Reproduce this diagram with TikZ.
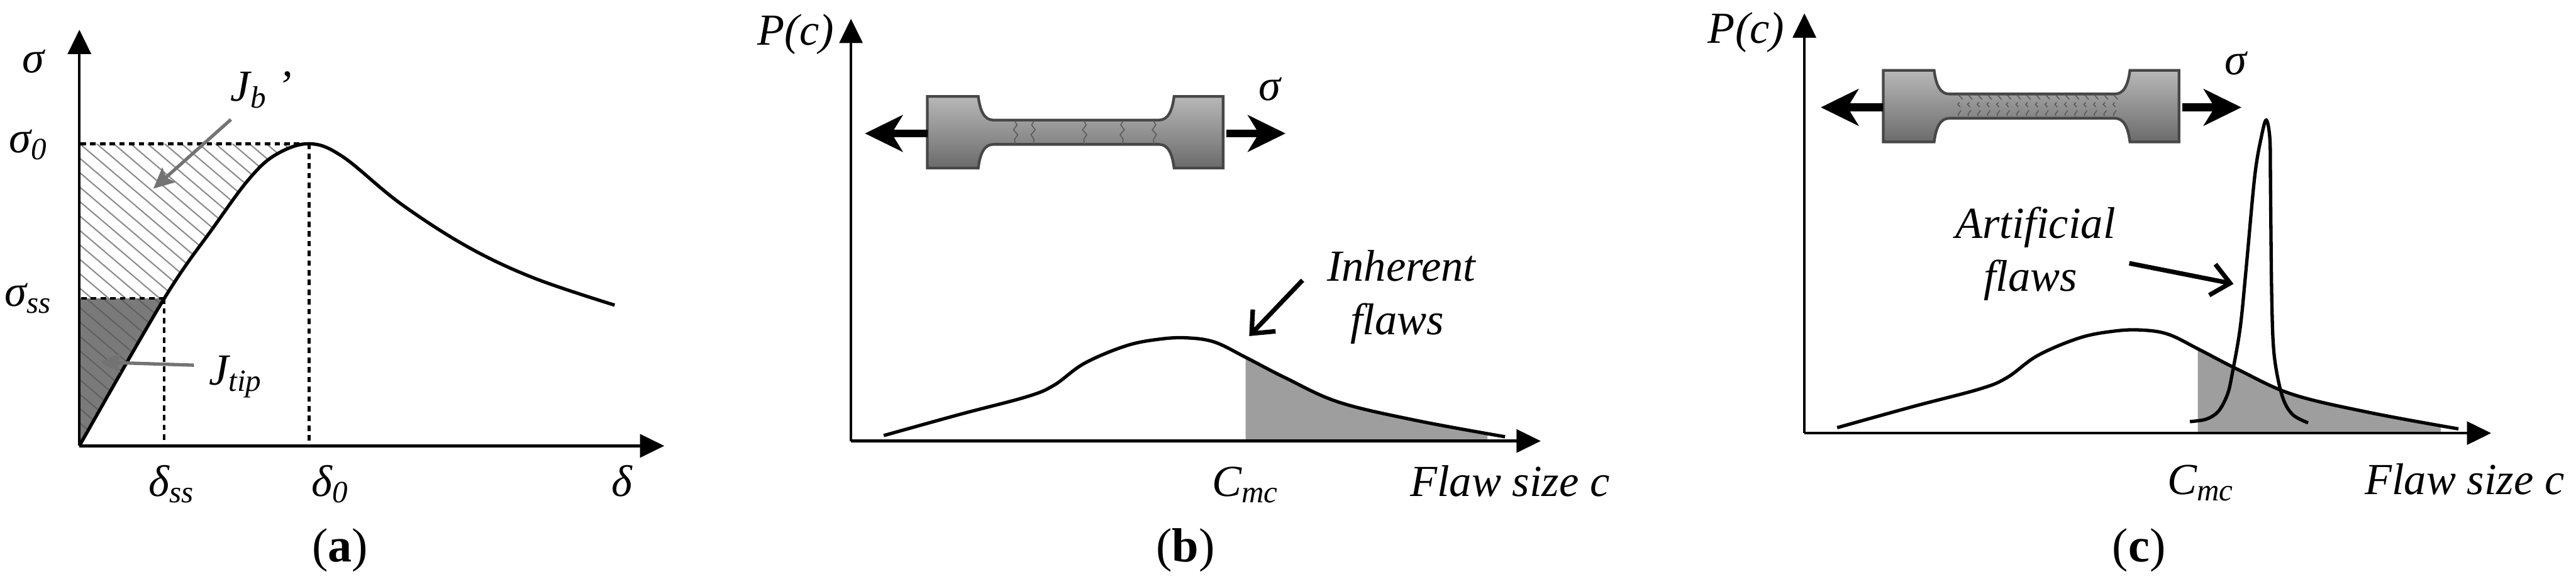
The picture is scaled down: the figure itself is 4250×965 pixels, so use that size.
\documentclass[tikz,border=0pt]{standalone}
\usepackage{fontspec}
\setmainfont{Liberation Serif}
\usetikzlibrary{arrows.meta}
\newcommand{\lowtext}[1]{\raisebox{-0.32ex}{\fontsize{14.5}{16}\selectfont #1}}
\newcommand{\flawcurve}{plot[smooth,tension=.6] coordinates {(54,-9) (180,-44) (290,-73) (335,-92) (385,-128) (454,-157) (510,-168) (555,-170) (600,-163) (651,-138) (717,-104) (805,-64) (932,-34) (1079,-7)}}
\tikzset{
  coupon/.pic={
    \path[shade,top color=black!28,middle color=black!31,bottom color=black!58,draw=black!72,line width=0.045cm]
      (-244,-59) -- (-160,-59) .. controls (-157,-35) and (-150,-20) .. (-135,-20)
      -- (138,-20) .. controls (153,-20) and (160,-35) .. (163,-59)
      -- (244,-59) -- (244,59) -- (163,59) .. controls (160,35) and (153,20) .. (138,20)
      -- (-135,20) .. controls (-150,20) and (-157,35) .. (-160,59)
      -- (-244,59) -- cycle;
    \coordinate (lin) at (-244,2);
    \coordinate (lout) at (-347,2);
    \coordinate (rin) at (249,2);
    \coordinate (rout) at (347,2);
    \draw[load] (lin) -- (lout);
    \draw[load] (rin) -- (rout);
  }
}
\begin{document}
\begin{tikzpicture}[
  x=0.01cm, y=-0.01cm,
  lab/.style={font=\fontsize{20.8}{25}\selectfont\itshape, inner sep=0pt, anchor=base},
  tag/.style={font=\fontsize{22.5}{25}\selectfont, inner sep=0pt, anchor=base},
  ax/.style={line width=0.045cm, -{Triangle[length=0.4cm,width=0.38cm]}},
  curve/.style={line width=0.055cm},
  guide/.style={line width=0.045cm, dash pattern=on 0.09cm off 0.07cm},
  hatch/.style={line width=0.022cm, draw=black!45},
  hatchdark/.style={line width=0.022cm, draw=black!62},
  pointer/.style={line width=0.055cm, draw=black!55, -{Stealth[length=0.34cm,width=0.32cm,inset=0.06cm]}},
  callout/.style={line width=0.075cm, -{Straight Barb[length=0.3cm,width=0.52cm]}},
  load/.style={line width=0.13cm, -{Stealth[length=0.62cm,width=0.6cm,inset=0.18cm]}},
  crack/.style={line width=0.016cm, draw=black!65},
  flawfill/.style={fill=black!38}
]
\useasboundingbox (0,0) rectangle (4250,965);

\coordinate (ao) at (131,735);
\coordinate (ay) at (131,49);
\coordinate (ax) at (1096,735);
\coordinate (apk) at (510,237);
\coordinate (ass) at (271,492);

\fill[black!52] (ao) -- (ass) -- (ass -| ao) -- cycle;
\begin{scope}
  \clip plot[smooth,tension=.6] coordinates {(271,492) (352,375) (411,295) (455,255) (510,237)} -- (131,237) -- (131,492) -- cycle;
  \foreach \s in {-220,-192,...,520} \draw[hatch] (\s,200) -- ++(400,340);
\end{scope}
\begin{scope}
  \clip (ao) -- (ass) -- (ass -| ao) -- cycle;
  \foreach \s in {-180,-152,...,280} \draw[hatchdark] (\s,480) -- ++(400,340);
\end{scope}

\draw[ax] (ao) -- (ay);
\draw[ax] (ao) -- (ax);
\draw[guide] (apk) -- (apk -| ao);
\draw[guide] (ass) -- (ass -| ao);
\draw[guide] (apk) -- (apk |- ao);
\draw[guide] (ass) -- (ass |- ao);
\draw[curve] plot[smooth,tension=.6] coordinates {(131,735) (271,492) (352,375) (411,295) (455,255) (510,237) (565,258) (660,335) (770,406) (880,458) (1014,503)};

\node[lab] (asig) at (55,120) {σ};
\node[lab] (asig0) at (46,252) {σ\lowtext{0}};
\node[lab] (asigss) at (46,505) {σ\lowtext{ss}};
\node[lab] (ajb) at (431,167) {J\lowtext{b} '};
\node[lab] (ajtip) at (388,634) {J\lowtext{tip}};
\node[lab] (adss) at (282,818) {δ\lowtext{ss}};
\node[lab] (ad0) at (544,818) {δ\lowtext{0}};
\node[lab] (ad) at (1026,818) {δ};
\node[tag] (atag) at (561,926) {(\textbf{a})};

\coordinate (ajbs) at (381,197);
\coordinate (ajbe) at (253,311);
\coordinate (ajts) at (320,602);
\coordinate (ajte) at (165,597);
\draw[pointer] (ajbs) -- (ajbe);
\draw[pointer] (ajts) -- (ajte);

\begin{scope}[shift={(1404,727)}]
  \coordinate (bo) at (0,0);
  \coordinate (by) at (0,-696);
  \coordinate (bx) at (1138,0);
  \begin{scope}
    \clip (651,-300) rectangle (1050,0);
    \fill[flawfill] \flawcurve -- (1079,0) -- (54,0) -- cycle;
  \end{scope}
  \draw[ax] (bo) -- (by);
  \draw[ax] (bo) -- (bx);
  \draw[curve] \flawcurve;
\end{scope}
\pic (bspec) at (1774,218) {coupon};
\foreach \x/\f in {1674/1,1706/-1,1788/1,1853/-1,1903/1}
  \draw[crack] (\x,199) -- ++(4*\f,7) -- ++(-6*\f,8) -- ++(7*\f,8) -- ++(-5*\f,8) -- ++(1*\f,8);

\node[lab] (bpc) at (1313,74) {P(c)};
\node[lab] (bsig) at (2095,166) {σ};
\node[lab] (binh) at (2312,463) {Inherent};
\node[lab] (bfl) at (2305,552) {flaws};
\node[lab] (bcmc) at (2054,818) {C\lowtext{mc}};
\node[lab] (bsize) at (2491,818) {Flaw size c};
\node[tag] (btag) at (1956,926) {(\textbf{b})};
\coordinate (bms) at (2149,462);
\coordinate (bme) at (2061,554);
\draw[callout] (bms) -- (bme);

\begin{scope}[shift={(2977,714)}]
  \coordinate (co) at (0,0);
  \coordinate (cy) at (0,-692);
  \coordinate (cx) at (1133,0);
  \begin{scope}
    \clip (649,-300) rectangle (1050,0);
    \fill[flawfill] \flawcurve -- (1079,0) -- (54,0) -- cycle;
  \end{scope}
  \draw[ax] (co) -- (cy);
  \draw[ax] (co) -- (cx);
  \draw[curve] \flawcurve;
\end{scope}
\draw[curve] plot[smooth,tension=.55] coordinates {(3613,695) (3640,691) (3660,678) (3675,650) (3683,615) (3696,540) (3706,440) (3720,290) (3731,225) (3739,198) (3745,230) (3746,310) (3748,490) (3752,585) (3765,652) (3782,683) (3808,697)};
\pic (cspec) at (3351,175) {coupon};
\foreach \x in {3231,3247,...,3487}
  \draw[crack,densely dashed] (\x,156) -- ++(7,8) -- ++(-8,8) -- ++(7,8) -- ++(-6,8) -- ++(2,7);

\node[lab] (cpc) at (2881,71) {P(c)};
\node[lab] (csig) at (3689,123) {σ};
\node[lab] (cart) at (3358,393) {Artificial};
\node[lab] (cfl) at (3350,480) {flaws};
\node[lab] (ccmc) at (3630,815) {C\lowtext{mc}};
\node[lab] (csize) at (4066,815) {Flaw size c};
\node[tag] (ctag) at (3529,926) {(\textbf{c})};
\coordinate (cms) at (3513,434);
\coordinate (cme) at (3685,468);
\draw[callout] (cms) -- (cme);
\end{tikzpicture}
\end{document}
